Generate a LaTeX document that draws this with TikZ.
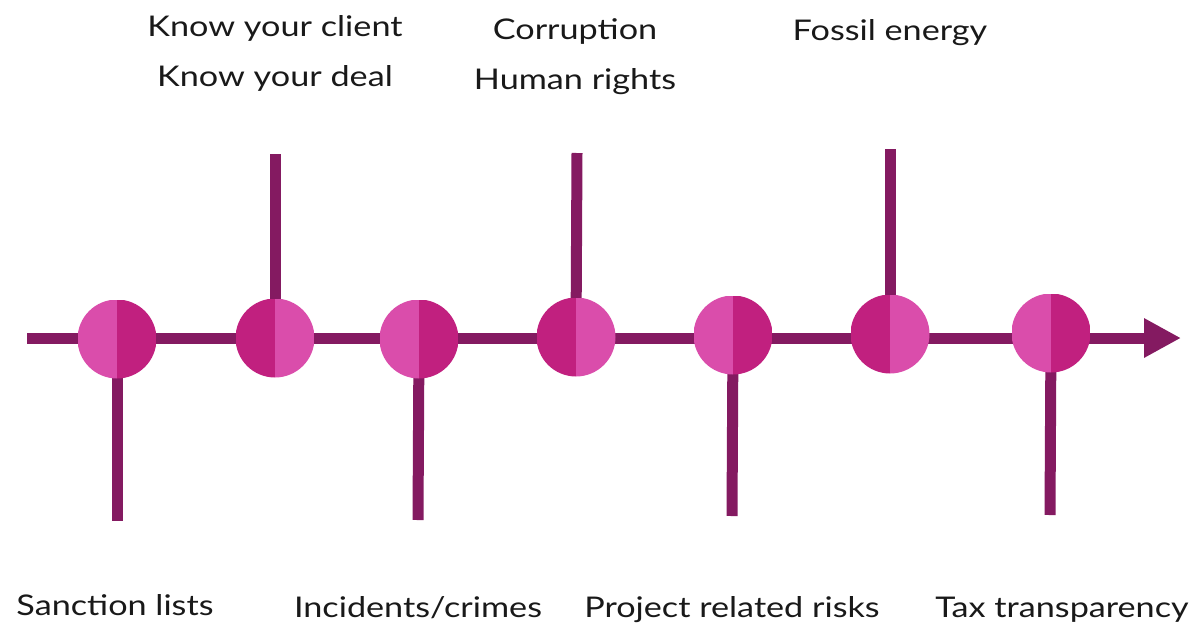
\documentclass[tikz,border=0pt]{standalone}
\usepackage{fontspec}
\setmainfont[FakeStretch=1.2]{Lato}
\usetikzlibrary{arrows.meta}
\definecolor{linec}{HTML}{841A61}
\definecolor{lightp}{HTML}{DA4DAB}
\definecolor{darkp}{HTML}{C1207F}
\tikzset{
  axis/.style={draw=linec, line width=11pt},
  stem/.style={draw=linec, line width=11pt},
  dot/.style={circle, minimum size=79pt, inner sep=0pt},
  lightleft/.style={dot, path picture={
     \fill[lightp] (path picture bounding box.south west) rectangle (path picture bounding box.north);
     \fill[darkp] (path picture bounding box.south) rectangle (path picture bounding box.north east);}},
  darkleft/.style={dot, path picture={
     \fill[darkp] (path picture bounding box.south west) rectangle (path picture bounding box.north);
     \fill[lightp] (path picture bounding box.south) rectangle (path picture bounding box.north east);}},
  lbl/.style={font=\fontsize{28.5}{50}\selectfont, text=black!90, inner sep=0pt, anchor=base, align=center},
}
\begin{document}
\begin{tikzpicture}[x=1pt,y=-1pt]
\useasboundingbox (0,0) rectangle (1197,627);
\coordinate (start) at (27,338);
\coordinate (end) at (1181,338);
\draw[axis, -{Triangle[length=37pt,width=37pt]}] (start) -- (end);
% stems
\coordinate (s1) at (117,521);
\coordinate (s2) at (275,154);
\coordinate (s3) at (418,520);
\coordinate (s4) at (577,153);
\coordinate (s5) at (732,516);
\coordinate (s6) at (890,149);
\coordinate (s7) at (1050,515);
\coordinate (c1) at (117,339);
\coordinate (c2) at (275,338);
\coordinate (c3) at (419,339);
\coordinate (c4) at (576,337);
\coordinate (c5) at (733,335);
\coordinate (c6) at (890,334);
\coordinate (c7) at (1051,333);
\draw[stem] (c1) -- (s1);
\draw[stem] (c2) -- (s2);
\draw[stem] (c3) -- (s3);
\draw[stem] (c4) -- (s4);
\draw[stem] (c5) -- (s5);
\draw[stem] (c6) -- (s6);
\draw[stem] (c7) -- (s7);
% circles
\node[lightleft] (n1) at (c1) {};
\node[darkleft] (n2) at (c2) {};
\node[lightleft] (n3) at (c3) {};
\node[darkleft] (n4) at (c4) {};
\node[lightleft] (n5) at (c5) {};
\node[darkleft] (n6) at (c6) {};
\node[lightleft] (n7) at (c7) {};
% labels
\node[lbl] (t2) at (275,86) {Know your client\\Know your deal};
\node[lbl] (t4) at (575,89) {Corruption\\Human rights};
\node[lbl] (t6) at (890,40) {Fossil energy};
\node[lbl] (t1) at (115,615) {Sanction lists};
\node[lbl] (t3) at (418,617) {Incidents/crimes};
\node[lbl] (t5) at (732,617) {Project related risks};
\node[lbl] (t7) at (1062,617) {Tax transparency};
\end{tikzpicture}
\end{document}
